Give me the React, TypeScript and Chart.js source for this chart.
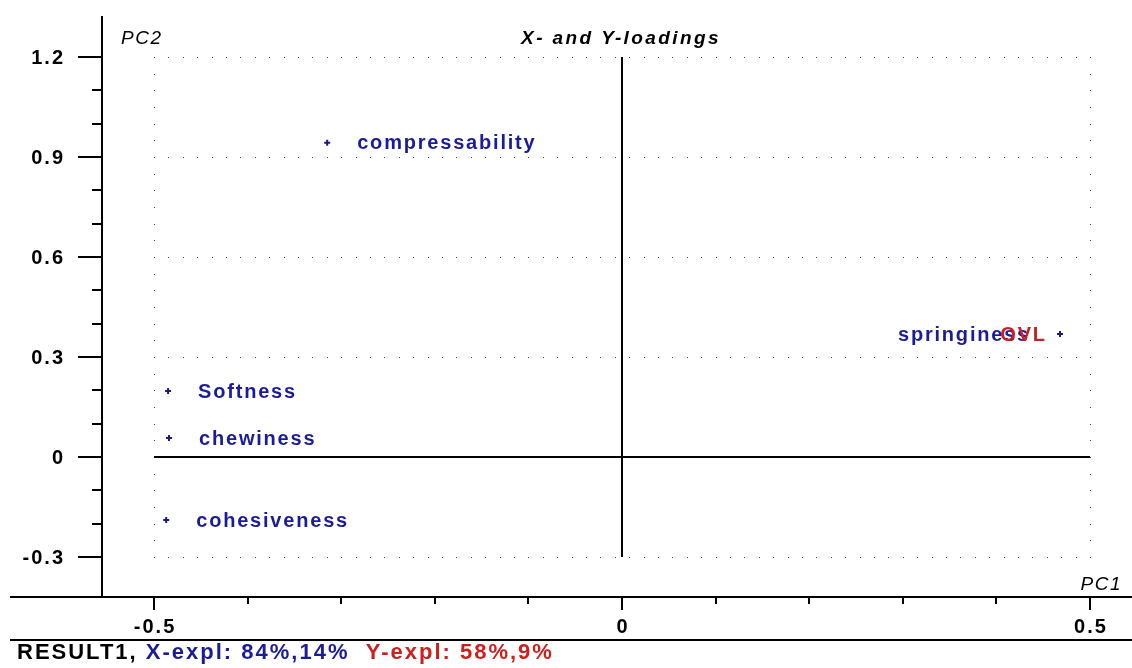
import React, { useEffect, useRef } from "react";
import { Chart, registerables } from "chart.js";

Chart.register(...registerables);

// X-loadings (blue)
const xLoadNames = ["compressability", "Softness", "chewiness", "cohesiveness", "springiness"];
const xLoadPC1 = [-0.315, -0.485, -0.484, -0.487, 0.468];
const xLoadPC2 = [0.943, 0.198, 0.057, -0.189, 0.369];

// Y-loadings (red)
const yLoadNames = ["OVL"];
const yLoadPC1 = [0.486];
const yLoadPC2 = [0.369];

// axis ticks
const xTickValues = [-0.5, 0, 0.5];
const xTickLabels = ["-0.5", "0", "0.5"];
const xMinorTicks = [-0.4, -0.3, -0.2, -0.1, 0.1, 0.2, 0.3, 0.4];
const yTickValues = [-0.3, 0, 0.3, 0.6, 0.9, 1.2];
const yTickLabels = ["-0.3", "0", "0.3", "0.6", "0.9", "1.2"];
const yMinorTicks = [-0.2, -0.1, 0.1, 0.2, 0.4, 0.5, 0.7, 0.8, 1.0, 1.1];
const gridYValues = [1.2, 0.9, 0.6, 0.3, -0.3];

const titleText = "X- and Y-loadings";
const xAxisName = "PC1";
const yAxisName = "PC2";
const footerParts = ["RESULT1,", " X-expl: 84%,14%", "  Y-expl: 58%,9%"];

const X_MIN = -0.5556;
const X_MAX = 0.5449;
const Y_MIN = -0.42;
const Y_MAX = 1.323;

const FONT = "'Liberation Sans', Arial, sans-serif";
const BLUE = "#1c1c96";
const RED = "#cc1f1f";
const MARK = "#1a1a78";

function setText(ctx: CanvasRenderingContext2D, font: string, ls: number) {
  ctx.font = font;
  (ctx as any).letterSpacing = ls + "px";
}

const drawPlugin = {
  id: "pcaDecor",
  beforeDatasetsDraw(chart: any) {
    const ctx: CanvasRenderingContext2D = chart.ctx;
    const xs = chart.scales.x;
    const ys = chart.scales.y;
    const ca = chart.chartArea;
    ctx.save();
    // dotted grid
    ctx.fillStyle = "#444";
    const gx0 = xs.getPixelForValue(-0.5);
    const gx1 = xs.getPixelForValue(0.5);
    const gyTop = ys.getPixelForValue(1.2);
    const gyBot = ys.getPixelForValue(-0.3);
    for (const v of gridYValues) {
      const py = Math.round(ys.getPixelForValue(v));
      for (let px = gx0; px <= gx1 + 0.5; px += 14.4) {
        ctx.fillRect(Math.round(px), py, 1, 1);
      }
    }
    const stepY = (gyBot - gyTop) / 30;
    for (const gxv of [gx0, gx1]) {
      for (let i = 0; i <= 30; i++) {
        ctx.fillRect(Math.round(gxv), Math.round(gyTop + i * stepY), 1, 1);
      }
    }
    // solid zero lines
    ctx.strokeStyle = "#000";
    ctx.lineWidth = 2;
    const zx = Math.round(xs.getPixelForValue(0));
    const zy = Math.round(ys.getPixelForValue(0));
    ctx.beginPath();
    ctx.moveTo(gx0, zy);
    ctx.lineTo(gx1, zy);
    ctx.moveTo(zx, gyTop);
    ctx.lineTo(zx, gyBot);
    ctx.stroke();

    // axes
    const ax = Math.round(ca.left);
    const ay = Math.round(ca.bottom);
    ctx.beginPath();
    ctx.moveTo(ax, ca.top);
    ctx.lineTo(ax, ay);
    ctx.moveTo(10, ay);
    ctx.lineTo(chart.width, ay);
    ctx.moveTo(10, 640);
    ctx.lineTo(chart.width, 640);
    ctx.stroke();

    // y ticks
    ctx.beginPath();
    for (const v of yTickValues) {
      const py = Math.round(ys.getPixelForValue(v));
      ctx.moveTo(ax - 24, py);
      ctx.lineTo(ax, py);
    }
    for (const v of yMinorTicks) {
      const py = Math.round(ys.getPixelForValue(v));
      ctx.moveTo(ax - 10, py);
      ctx.lineTo(ax, py);
    }
    // x ticks
    for (const v of xTickValues) {
      const px = Math.round(xs.getPixelForValue(v));
      ctx.moveTo(px, ay);
      ctx.lineTo(px, ay + 13);
    }
    for (const v of xMinorTicks) {
      const px = Math.round(xs.getPixelForValue(v));
      ctx.moveTo(px, ay);
      ctx.lineTo(px, ay + 7);
    }
    ctx.stroke();

    // tick labels
    ctx.fillStyle = "#000";
    setText(ctx, `bold 20px ${FONT}`, 2);
    ctx.textBaseline = "middle";
    ctx.textAlign = "right";
    yTickValues.forEach((v, i) => {
      ctx.fillText(yTickLabels[i], 65, ys.getPixelForValue(v) + 1);
    });
    ctx.textAlign = "center";
    xTickValues.forEach((v, i) => {
      ctx.fillText(xTickLabels[i], xs.getPixelForValue(v) + 1, 627);
    });

    // titles
    setText(ctx, `bold italic 19px ${FONT}`, 2.4);
    ctx.textAlign = "center";
    ctx.fillText(titleText, 621, 39);
    setText(ctx, `italic 19px ${FONT}`, 1.5);
    ctx.textAlign = "left";
    ctx.fillText(yAxisName, 121, 39);
    ctx.textAlign = "right";
    ctx.fillText(xAxisName, 1122, 585);

    // footer
    setText(ctx, `bold 22px ${FONT}`, 2);
    ctx.textAlign = "left";
    const colors = ["#000", BLUE, RED];
    let fx = 17;
    footerParts.forEach((t, i) => {
      ctx.fillStyle = colors[i];
      ctx.fillText(t, fx, 653);
      fx += ctx.measureText(t).width;
    });
    ctx.restore();
  },
  afterDatasetsDraw(chart: any) {
    const ctx: CanvasRenderingContext2D = chart.ctx;
    ctx.save();
    setText(ctx, `bold 20px ${FONT}`, 1.8);
    ctx.textBaseline = "middle";
    const groups = [
      { names: xLoadNames, meta: chart.getDatasetMeta(0), color: BLUE, vals: xLoadPC1 },
      { names: yLoadNames, meta: chart.getDatasetMeta(1), color: RED, vals: yLoadPC1 },
    ];
    for (const g of groups) {
      ctx.fillStyle = g.color;
      g.names.forEach((name, i) => {
        const el = g.meta.data[i];
        if (g.vals[i] > 0.3) {
          ctx.textAlign = "right";
          ctx.fillText(name, el.x - 30, el.y + 1);
        } else {
          ctx.textAlign = "left";
          ctx.fillText(name, el.x + 30, el.y + 1);
        }
      });
    }
    ctx.restore();
  },
};

export default function App() {
  const ref = useRef<HTMLCanvasElement | null>(null);
  useEffect(() => {
    if (!ref.current) return;
    const chart = new Chart(ref.current, {
      type: "scatter",
      data: {
        datasets: [
          {
            label: "X-loadings",
            data: xLoadPC1.map((x, i) => ({ x, y: xLoadPC2[i] })),
            pointStyle: "cross",
            pointRadius: 3,
            borderWidth: 2,
            borderColor: MARK,
            backgroundColor: MARK,
          },
          {
            label: "Y-loadings",
            data: yLoadPC1.map((x, i) => ({ x, y: yLoadPC2[i] })),
            pointRadius: 0,
            borderColor: RED,
            backgroundColor: RED,
          },
        ],
      },
      options: {
        animation: false,
        responsive: false,
        maintainAspectRatio: false,
        layout: { autoPadding: false, padding: { left: 102, right: 0, top: 16, bottom: 71 } },
        plugins: { legend: { display: false }, tooltip: { enabled: false } },
        scales: {
          x: { type: "linear", min: X_MIN, max: X_MAX, display: false },
          y: { type: "linear", min: Y_MIN, max: Y_MAX, display: false },
        },
      },
      plugins: [drawPlugin],
    });
    return () => chart.destroy();
  }, []);
  return (
    <div style={{ position: "fixed", left: 0, top: 0, width: 1132, height: 668, background: "#fff" }}>
      <canvas ref={ref} width={1132} height={668} style={{ width: 1132, height: 668, display: "block" }} />
    </div>
  );
}
